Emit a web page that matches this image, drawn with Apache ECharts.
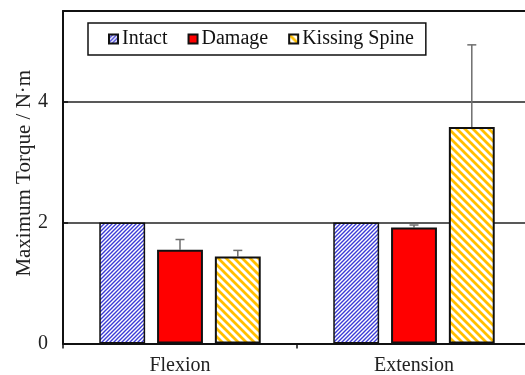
<!DOCTYPE html>
<html>
<head>
<meta charset="utf-8">
<script src="https://cdn.jsdelivr.net/npm/echarts@6/dist/echarts.min.js"></script>
<style>
  html, body { margin: 0; padding: 0; background: #fff; overflow: hidden; }
  #chart { width: 525px; height: 375px; }
</style>
</head>
<body>
<div id="chart"></div>
<script>
// Maximum torque per loading direction
const categories = ['Flexion', 'Extension'];
const intact = [2.0, 2.0];
const damage = [1.55, 1.92];
const kissing = [1.44, 3.58];
const damageErr = [0.17, 0.04];
const kissingErr = [0.10, 1.36];
const yTicks = [0, 2, 4];

const FONT = '"Liberation Serif", "Times New Roman", serif';
const CAT_GAP = 0.31;  // barCategoryGap as fraction
const BAR_GAP = 0.26;  // barGap as fraction of bar width

// diagonal hatch tile: dir 1 = '/', dir -1 = '\'
function hatch(period, color, width, dir) {
  const c = document.createElement('canvas');
  c.width = period; c.height = period;
  const g = c.getContext('2d');
  g.fillStyle = '#fff';
  g.fillRect(0, 0, period, period);
  g.strokeStyle = color;
  g.lineWidth = width;
  g.beginPath();
  for (let k = -1; k <= 1; k++) {
    const o = k * period;
    if (dir > 0) {
      g.moveTo(o - 1, period + 1); g.lineTo(o + period + 1, -1);
    } else {
      g.moveTo(o - 1, -1); g.lineTo(o + period + 1, period + 1);
    }
  }
  g.stroke();
  return { image: c, repeat: 'repeat' };
}

const intactFill = hatch(4, '#3b3bd6', 1.4, 1);
const kissingFill = hatch(8, '#ffbf00', 2.8, -1);

function errorSeries(name, idx, values, errs) {
  return {
    type: 'custom',
    name: name + ' err',
    z: 1,
    data: values.map((v, i) => [i, v, v + errs[i]]),
    renderItem: function (params, api) {
      const band = api.size([1, 0])[0];
      const bw = band * (1 - CAT_GAP) / (3 + 2 * BAR_GAP);
      const off = (idx - 1) * bw * (1 + BAR_GAP);
      const lo = api.coord([api.value(0), api.value(1)]);
      const hi = api.coord([api.value(0), api.value(2)]);
      const x = lo[0] + off;
      const style = { stroke: '#6e6e6e', lineWidth: 1.5 };
      return {
        type: 'group',
        children: [
          { type: 'line', shape: { x1: x, y1: lo[1], x2: x, y2: hi[1] }, style: style },
          { type: 'line', shape: { x1: x - 4.5, y1: hi[1], x2: x + 4.5, y2: hi[1] }, style: style }
        ]
      };
    }
  };
}

const chart = echarts.init(document.getElementById('chart'), null, { renderer: 'canvas' });

const barBase = {
  type: 'bar',
  barCategoryGap: (CAT_GAP * 100) + '%',
  barGap: (BAR_GAP * 100) + '%',
  z: 2
};

chart.setOption({
  animation: false,
  backgroundColor: '#fff',
  grid: {
    left: 63, top: 11, width: 468, bottom: 31.5,
    containLabel: false,
    outerBoundsMode: 'none'
  },
  legend: {
    left: 88,
    top: 23,
    orient: 'horizontal',
    data: ['Intact', 'Damage', 'Kissing Spine'],
    icon: 'rect',
    itemWidth: 9,
    itemHeight: 9,
    itemGap: 20,
    padding: [6, 12, 6, 20],
    borderColor: '#111',
    borderWidth: 1.5,
    backgroundColor: '#fff',
    textStyle: { fontFamily: FONT, fontSize: 20, color: '#111', padding: [0, 0, 0, -1] }
  },
  xAxis: [{
    type: 'category',
    data: categories,
    axisLine: { lineStyle: { color: '#111', width: 2 } },
    axisTick: { show: true, length: 5, lineStyle: { color: '#111', width: 1.5 } },
    axisLabel: { fontFamily: FONT, fontSize: 20, color: '#222', margin: 12 }
  }, {
    type: 'category',
    position: 'top',
    data: categories,
    axisLine: { lineStyle: { color: '#111', width: 2 } },
    axisTick: { show: false },
    axisLabel: { show: false }
  }],
  yAxis: {
    type: 'value',
    min: 0,
    max: 5.5,
    interval: 2,
    name: 'Maximum Torque / N\u00b7m',
    nameLocation: 'middle',
    nameGap: 28,
    nameMoveOverlap: false,
    nameTextStyle: { fontFamily: FONT, fontSize: 21, color: '#222', padding: [0, 0, 0, 8] },
    axisLine: { show: true, lineStyle: { color: '#111', width: 2 } },
    axisTick: { show: true, inside: true, length: 5, lineStyle: { color: '#111', width: 1.5 } },
    axisLabel: {
      fontFamily: FONT, fontSize: 20, color: '#222', margin: 15,
      showMaxLabel: false,
      formatter: v => (yTicks.indexOf(v) >= 0 ? String(v) : '')
    },
    splitLine: { show: true, lineStyle: { color: '#222', width: 1.5 } }
  },
  series: [
    Object.assign({}, barBase, {
      name: 'Intact',
      data: intact,
      itemStyle: { color: intactFill, borderColor: '#111', borderWidth: 1.5 }
    }),
    Object.assign({}, barBase, {
      name: 'Damage',
      data: damage,
      itemStyle: { color: '#ff0000', borderColor: '#111', borderWidth: 2 }
    }),
    Object.assign({}, barBase, {
      name: 'Kissing Spine',
      data: kissing,
      itemStyle: { color: kissingFill, borderColor: '#111', borderWidth: 2 }
    }),
    errorSeries('Damage', 1, damage, damageErr),
    errorSeries('Kissing Spine', 2, kissing, kissingErr)
  ]
});
</script>
</body>
</html>
